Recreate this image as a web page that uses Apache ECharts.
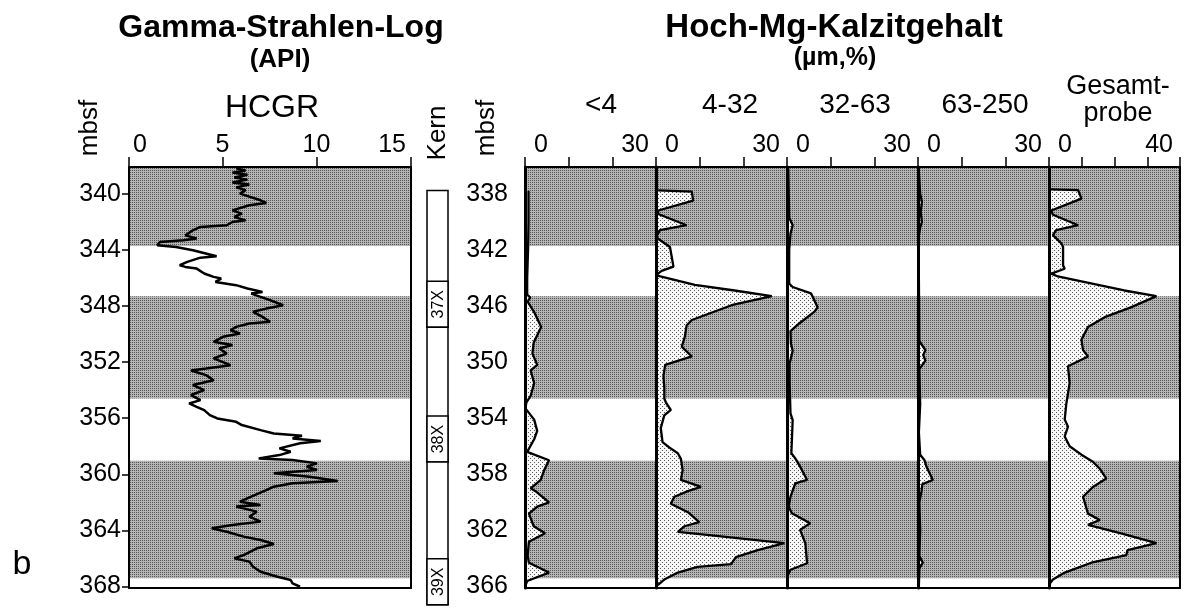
<!DOCTYPE html>
<html><head><meta charset="utf-8">
<script src="https://cdn.jsdelivr.net/npm/echarts@6/dist/echarts.min.js"></script>
<style>html,body{margin:0;padding:0;background:#fff}#c{width:1190px;height:609px}</style>
</head><body><div id="c"></div>
<script>
// ---------------- DATA ----------------
// Gamma ray log (HCGR, API), depth in mbsf (left depth scale)
const gammaDepth = [338.2,338.35,338.5,338.65,338.85,339.0,339.2,339.35,339.55,339.75,340.0,340.47,340.66,340.83,341.19,341.42,341.66,341.9,342.02,342.25,342.37,342.61,342.97,343.2,343.32,343.44,343.68,343.8,344.03,344.46,344.56,344.86,345.1,345.22,345.34,345.69,345.93,346.05,346.29,346.52,346.76,347.0,347.12,347.35,347.59,347.95,348.19,348.42,348.78,349.13,349.25,349.49,349.73,349.96,350.2,350.56,350.79,351.03,351.39,351.74,352.22,352.46,352.6,352.93,353.29,353.64,354.0,354.35,354.71,354.95,355.19,355.42,355.78,356.02,356.26,356.49,356.85,357.09,357.25,357.44,357.63,357.79,358.15,358.39,358.63,358.87,358.98,359.22,359.45,359.69,359.93,360.17,360.48,360.64,360.88,361.12,361.59,361.95,362.18,362.3,362.66,363.02,363.37,363.61,363.85,364.09,364.44,364.68,364.96,365.27,365.75,365.99,366.22,366.58,366.94,367.3,367.53,367.77,368.01];
const gammaAPI = [5.7,6.2,5.5,6.3,5.6,6.3,5.5,6.4,5.7,6.2,5.9,7.0,7.3,6.4,5.5,6.0,5.6,6.2,5.5,5.2,3.8,3.4,3.0,3.6,2.9,1.65,1.5,2.5,3.4,4.66,3.8,3.1,2.7,3.0,3.6,4.0,4.5,4.9,4.6,5.7,6.3,7.1,6.5,7.0,7.5,8.2,7.3,6.6,7.1,7.5,6.4,5.7,5.4,5.9,5.0,4.5,5.5,4.8,5.2,4.5,5.4,4.1,3.3,4.1,4.5,3.4,4.0,3.3,3.8,3.2,3.6,4.0,4.3,4.7,5.7,6.0,7.0,7.7,9.2,8.7,10.2,9.1,8.0,8.6,8.0,6.9,8.7,10.0,9.45,10.0,7.7,9.6,11.1,8.7,7.7,7.3,6.5,5.9,7.0,5.7,6.8,6.4,7.0,5.5,4.4,5.2,6.1,7.0,7.7,6.8,6.1,5.6,6.4,6.6,7.0,7.9,8.6,8.7,9.1];

// grey (stippled) intervals, left depth scale and right depth scale
const bandsLeft  = [[338.1,343.73],[347.31,354.59],[359.03,367.40]];
const bandsRight = [[336.1,341.73],[345.31,352.59],[357.03,365.40]];

// cores (Kern)
const coreTop    = [339.77, 349.52, 359.13];
const coreBottom = [349.52, 359.13, 369.30];
const coreLabel  = ['37X','38X','39X'];

// depth tick labels
const leftDepthTicks  = [340,344,348,352,356,360,364,368];
const rightDepthTicks = [338,342,346,350,354,358,362,366];

// High-Mg calcite content per grain size class (µm, %)
const sizeClasses = ['<4','4-32','32-63','63-250','Gesamt-\nprobe'];
const classMax = [30,30,30,30,40];

const lt4Depth = [337.8,340.0,342.0,344.0,345.2,345.4,345.7,346.5,347.5,348.6,349.4,350.2,350.6,351.5,352.4,352.9,353.3,354.1,354.9,355.5,356.4,357.0,357.7,358.4,359.0,359.2,360.0,360.3,360.8,361.7,362.2,362.8,363.8,364.3,365.0,365.6,366.0];
const lt4Value = [0.8,0.8,0.7,0.5,0.5,1.2,0.6,2.2,3.7,2.0,1.7,2.8,1.3,2.1,1.3,0.3,0.1,2.1,2.8,2.1,0.5,5.5,4.4,3.6,1.3,2.4,5.5,2.8,0.9,2.0,4.6,0.9,0.6,0.9,5.5,0.5,0];

const c4to32Depth = [337.76,337.85,338.5,339.2,339.45,340.25,340.6,341.0,341.2,341.8,343.2,343.5,343.8,343.9,344.5,344.9,345.3,345.95,347.0,347.4,348.2,348.9,349.6,350.2,351.0,351.8,352.6,352.9,353.4,353.8,354.7,355.7,356.1,356.5,356.9,357.7,358.4,358.9,359.2,359.6,360.1,360.7,361.4,361.7,362.1,362.3,362.9,363.4,363.9,364.4,364.6,365.0,365.5,365.9];
const c4to32Value = [0.5,8.2,8.5,0.5,0.5,7.0,0.9,0.2,0.4,3.2,4.0,1.3,0,1.0,8.9,18,26.5,17.3,8.2,7.0,6.6,5.9,8.2,2.1,1.7,1.9,1.9,2.3,3.4,1.9,1.1,1.5,3.1,5.0,5.7,6.1,5.7,10.3,7.3,4.2,3.4,7.3,9.9,6.5,5.0,11.1,29.4,23.3,18.3,17.2,9.5,5.0,1.9,0.4];

const c32to63Depth = [336.2,339.7,340.25,340.85,342.0,344.4,344.65,345.1,346.1,346.4,347.25,347.8,348.7,349.2,350.1,351.5,353.66,354.13,356.5,356.86,357.45,358.4,358.64,359.59,360.3,360.78,361.49,361.96,362.91,364.34,364.8,365.17,366.0];
const c32to63Value = [0.3,0.5,1.3,0.8,0.5,0.5,1.3,5.5,7.0,6.3,2.8,0.8,0.9,1.3,0.6,0.6,0.8,1.3,1.0,1.9,3.0,4.6,1.9,0.8,0.4,1.1,5.3,3.0,4.2,4.6,0.8,0.2,0.2];

const c63to250Depth = [336.5,338.0,338.6,339.3,340.0,340.4,341.0,344.0,348.5,349.15,349.5,349.9,350.5,353.0,355.0,356.6,357.0,357.5,358.4,358.7,359.2,360.0,362.0,363.8,364.3,364.7,366.0];
const c63to250Value = [0.2,0.5,0.9,0.6,0.9,0.5,0.2,0.2,0.3,1.7,1.2,1.7,0.3,0.5,0.2,0.5,1.5,2.0,3.4,1.0,0.8,0.3,0.5,0.3,1.1,0.3,0.2];

const bulkDepth = [337.7,337.75,338.35,339.2,339.5,340.25,340.6,340.95,341.55,341.8,343.1,343.35,343.7,343.9,344.5,344.9,345.3,346.1,346.8,347.5,348.4,349.15,349.6,350.3,351.5,352.95,354.1,354.6,355.3,356.0,356.6,357.1,357.6,358.3,358.9,359.6,360.8,361.25,361.6,362.2,362.9,363.4,363.75,364.3,365.0,365.5,365.8];
const bulkValue = [0.5,8.9,9.9,0.7,1.2,8.9,2.2,1.2,3.8,4.3,4.3,4.8,0.7,2.7,15,23,32.8,25,17,11.9,9.9,10.4,11.9,5.8,6.3,5.3,4.8,5.8,4.8,6.3,9.9,13.4,15.5,17.5,13.4,10.4,11.9,15.5,11.9,22,32.8,24,23.6,12.9,4.8,1.2,0.2];

const classDepths = [lt4Depth, c4to32Depth, c32to63Depth, c63to250Depth, bulkDepth];
const classValues = [lt4Value, c4to32Value, c32to63Value, c63to250Value, bulkValue];

// ---------------- LAYOUT / STYLE ----------------
const FONT = "'Liberation Sans', Arial, Helvetica, sans-serif";
const PLOT_TOP = 167, PLOT_H = 421;
const LEFT_MIN = 338.1, LEFT_MAX = 368.1;
const RIGHT_MIN = 336.1, RIGHT_MAX = 366.1;
const KERN_H = 442;
const KERN_MAX = LEFT_MIN + (LEFT_MAX - LEFT_MIN) * KERN_H / PLOT_H;
const PANEL_X0 = 525, PANEL_W = 131;

function makePattern(size, bg, dots, dotColor) {
  const c = document.createElement('canvas');
  c.width = size; c.height = size;
  const g = c.getContext('2d');
  g.fillStyle = bg; g.fillRect(0, 0, size, size);
  g.fillStyle = dotColor;
  dots.forEach(function (p) { g.fillRect(p[0], p[1], 1, 1); });
  return { image: c, repeat: 'repeat' };
}
const bandFill = makePattern(2, '#b4b4b4', [[0,0]], '#565656');
const curveFill = makePattern(4, '#f6f6f6', [[0,0],[2,2]], '#5a5a5a');

function bandRenderer(params, api) {
  const cs = params.coordSys;
  const y0 = api.coord([0, api.value(0)])[1];
  const y1 = api.coord([0, api.value(1)])[1];
  return { type: 'rect',
    shape: { x: cs.x, y: Math.min(y0, y1), width: cs.width, height: Math.abs(y1 - y0) },
    style: { fill: bandFill } };
}
function fillRenderer(depths, vals) {
  return function (params, api) {
    if (params.dataIndexInside !== 0) return null;
    const pts = [];
    for (let i = 0; i < depths.length; i++) pts.push(api.coord([vals[i], depths[i]]));
    pts.push(api.coord([0, depths[depths.length - 1]]));
    pts.push(api.coord([0, depths[0]]));
    return { type: 'polygon', shape: { points: pts }, style: { fill: curveFill } };
  };
}
function kernRenderer(params, api) {
  const cs = params.coordSys;
  const i = params.dataIndex;
  const yTop = api.coord([0, api.value(0)])[1];
  const yBot = api.coord([0, api.value(1)])[1];
  const lblH = 46;
  return { type: 'group', children: [
    { type: 'rect', shape: { x: cs.x, y: yTop, width: cs.width, height: yBot - yTop },
      style: { fill: '#fff', stroke: '#000', lineWidth: 1.5 } },
    { type: 'rect', shape: { x: cs.x, y: yBot - lblH, width: cs.width, height: lblH },
      style: { fill: '#fff', stroke: '#000', lineWidth: 1.5 } },
    { type: 'text', x: cs.x + cs.width / 2 + 1, y: yBot - lblH / 2, rotation: Math.PI / 2,
      style: { text: coreLabel[i], fill: '#000', font: '16px ' + FONT,
               align: 'center', verticalAlign: 'middle', textAlign: 'center', textVerticalAlign: 'middle' } }
  ]};
}

const grids = [], xAxes = [], yAxes = [], series = [];
const frameLine = { show: true, onZero: false, lineStyle: { color: '#000', width: 2 } };
const labelStyle = { fontSize: 25, fontFamily: FONT, color: '#000' };

function topXAxis(g, max, interval, onlyEnds, pad) {
  return { gridIndex: g, type: 'value', position: 'top', min: 0, max: max, interval: interval, z: 10,
    axisLine: frameLine,
    axisTick: { show: true, inside: false, length: 10, lineStyle: { color: '#000', width: 1.5 } },
    axisLabel: Object.assign({ show: true, margin: 9, alignMinLabel: 'left', alignMaxLabel: 'right',
      showMinLabel: true, showMaxLabel: true, padding: pad,
      formatter: function (v) { return (!onlyEnds || v === 0 || v === max) ? String(v) : ''; } }, labelStyle),
    splitLine: { show: false } };
}
function bottomXAxis(g, max) {
  return { gridIndex: g, type: 'value', position: 'bottom', min: 0, max: max, z: 10,
    axisLine: frameLine, axisTick: { show: false }, axisLabel: { show: false }, splitLine: { show: false } };
}

// grid 0: gamma log
grids.push({ left: 129, top: PLOT_TOP, width: 282, height: PLOT_H, show: false });
xAxes.push(topXAxis(0, 15, 5, false, [0, 5, 0, 4]));
xAxes.push(bottomXAxis(0, 15));
yAxes.push({ gridIndex: 0, type: 'value', inverse: true, min: LEFT_MIN, max: LEFT_MAX, position: 'left', z: 10,
  axisLine: frameLine,
  axisTick: { show: true, inside: false, length: 7, customValues: leftDepthTicks, lineStyle: { color: '#000', width: 1.5 } },
  axisLabel: Object.assign({ show: true, margin: 8, customValues: leftDepthTicks }, labelStyle),
  splitLine: { show: false } });
yAxes.push({ gridIndex: 0, type: 'value', inverse: true, min: LEFT_MIN, max: LEFT_MAX, position: 'right', z: 10,
  axisLine: frameLine, axisTick: { show: false }, axisLabel: { show: false }, splitLine: { show: false } });
series.push({ type: 'custom', name: 'bands', xAxisIndex: 0, yAxisIndex: 0, z: 1, clip: true,
  renderItem: bandRenderer, data: bandsLeft, silent: true });
series.push({ type: 'line', name: 'HCGR', xAxisIndex: 0, yAxisIndex: 0, z: 4, clip: true,
  showSymbol: false, symbol: 'none', lineStyle: { color: '#000', width: 2.5, join: 'bevel' },
  data: gammaAPI.map(function (v, i) { return [v, gammaDepth[i]]; }) });

// grid 1: Kern column
grids.push({ left: 427, top: PLOT_TOP, width: 21, height: KERN_H, show: false });
xAxes.push({ gridIndex: 1, type: 'value', min: 0, max: 1, show: false });
yAxes.push({ gridIndex: 1, type: 'value', inverse: true, min: LEFT_MIN, max: KERN_MAX, show: false });
series.push({ type: 'custom', name: 'Kern', xAxisIndex: 2, yAxisIndex: 2, z: 3, clip: false,
  renderItem: kernRenderer, data: coreTop.map(function (t, i) { return [t, coreBottom[i]]; }) });

// grids 2..6: high-Mg calcite panels
for (let p = 0; p < 5; p++) {
  const g = 2 + p;
  const max = classMax[p];
  grids.push({ left: PANEL_X0 + p * PANEL_W, top: PLOT_TOP, width: PANEL_W, height: PLOT_H, show: false });
  xAxes.push(topXAxis(g, max, 10, true, [0, 7, 0, 9]));
  xAxes.push(bottomXAxis(g, max));
  const xi = 3 + 2 * p;
  yAxes.push({ gridIndex: g, type: 'value', inverse: true, min: RIGHT_MIN, max: RIGHT_MAX, position: 'left', z: 11,
    axisLine: { show: true, onZero: false, lineStyle: { color: '#000', width: 3 } },
    axisTick: { show: false },
    axisLabel: Object.assign({ show: p === 0, margin: 17, padding: [7, 0, 0, 0], customValues: rightDepthTicks }, labelStyle),
    splitLine: { show: false } });
  yAxes.push({ gridIndex: g, type: 'value', inverse: true, min: RIGHT_MIN, max: RIGHT_MAX, position: 'right', z: 10,
    axisLine: frameLine, axisTick: { show: false }, axisLabel: { show: false }, splitLine: { show: false } });
  const yi = 3 + 2 * p;
  const d = classDepths[p], v = classValues[p];
  const pairs = v.map(function (val, i) { return [val, d[i]]; });
  series.push({ type: 'custom', name: 'bands' + p, xAxisIndex: xi, yAxisIndex: yi, z: 1, clip: true,
    renderItem: bandRenderer, data: bandsRight, silent: true });
  series.push({ type: 'custom', name: sizeClasses[p] + ' fill', xAxisIndex: xi, yAxisIndex: yi, z: 2, clip: true,
    renderItem: fillRenderer(d, v), data: pairs, silent: true });
  series.push({ type: 'line', name: sizeClasses[p], xAxisIndex: xi, yAxisIndex: yi, z: 4, clip: true,
    showSymbol: false, symbol: 'none', lineStyle: { color: '#000', width: 2.3, join: 'bevel' }, data: pairs });
}

function txt(text, x, y, size, bold, rot) {
  return { type: 'text', x: x, y: y, rotation: rot ? Math.PI / 2 : 0, z: 100,
    style: { text: text, fill: '#000', font: (bold ? 'bold ' : '') + size + 'px ' + FONT,
      align: 'center', verticalAlign: 'middle', textAlign: 'center', textVerticalAlign: 'middle' } };
}
const classLabelX = [601, 730, 855, 985, 1118];
const graphics = [
  txt('Gamma-Strahlen-Log', 281, 28, 32, true),
  txt('(API)', 280, 60, 26, true),
  txt('HCGR', 272, 108, 32, false),
  txt('mbsf', 90, 128, 26, false, true),
  txt('Kern', 438, 133, 26, false, true),
  txt('b', 22, 565, 34, false),
  txt('Hoch-Mg-Kalzitgehalt', 834, 28, 33, true),
  txt('(\u00b5m,%)', 835, 58, 25, true),
  txt('mbsf', 487, 128, 26, false, true)
];
sizeClasses.forEach(function (s, i) {
  const parts = s.split('\n');
  if (parts.length === 1) graphics.push(txt(parts[0], classLabelX[i], 105, 28, false));
  else { graphics.push(txt(parts[0], classLabelX[i], 87, 27, false)); graphics.push(txt(parts[1], classLabelX[i], 114, 27, false)); }
});

const chart = echarts.init(document.getElementById('c'), null, { renderer: 'canvas' });
chart.setOption({
  animation: false,
  backgroundColor: '#fff',
  grid: grids, xAxis: xAxes, yAxis: yAxes, series: series,
  graphic: graphics
});
</script></body></html>
